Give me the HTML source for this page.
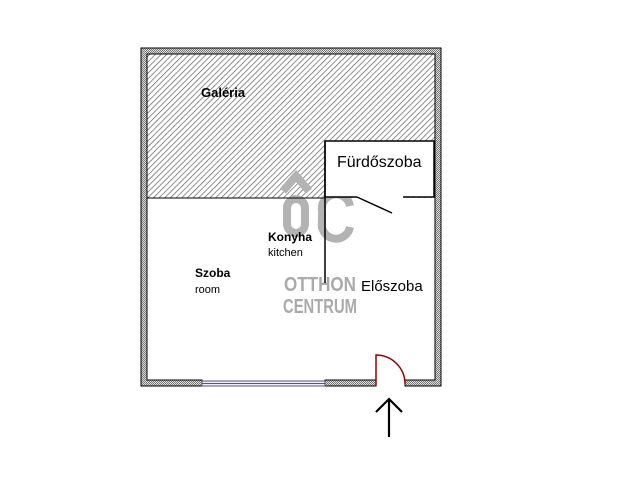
<!DOCTYPE html>
<html><head><meta charset="utf-8"><style>body{margin:0;background:#fff}</style></head><body>
<svg width="640" height="480" xmlns="http://www.w3.org/2000/svg">
<defs>
<pattern id="h" width="4" height="4" patternUnits="userSpaceOnUse" patternTransform="rotate(45)">
<rect width="4" height="4" fill="#fff"/><line x1="0" y1="0" x2="0" y2="4" stroke="#555" stroke-width="1.3"/>
</pattern>
<pattern id="w" width="2" height="2" patternUnits="userSpaceOnUse"><rect width="2" height="2" fill="#ddd"/><rect width="1" height="1" fill="#777"/><rect x="1" y="1" width="1" height="1" fill="#777"/></pattern>
</defs>
<rect x="147" y="54" width="288" height="144" fill="url(#h)"/>
<!-- logo -->
<g fill="none" stroke="#b3b3b3" stroke-width="8">
<rect x="287" y="199" width="18" height="34" rx="9"/>
<path d="M350 206A12 12 0 0 0 322 211V222A12 12 0 0 0 350 227"/>
<path d="M283 191L296 176L309 191"/>
</g>
<g font-family="Liberation Sans, sans-serif" fill="#aaa" font-size="20" font-weight="bold" text-anchor="middle">
<text x="320" y="291" textLength="72" lengthAdjust="spacingAndGlyphs">OTTHON</text>
<text x="320" y="313" textLength="74" lengthAdjust="spacingAndGlyphs">CENTRUM</text>
</g>
<rect x="325" y="141" width="109" height="56" fill="#fff" stroke="#000" stroke-width="1.5"/>
<!-- walls -->
<path d="M141 48H441V386H405V380H435V54H147V380H202V386H141Z" fill="url(#w)" stroke="#000" stroke-width="1"/>
<path d="M325 380H376V386H325Z" fill="url(#w)" stroke="#000" stroke-width="1"/>
<rect x="202" y="381" width="123" height="5" fill="#eef" stroke="#557" stroke-width="1"/>
<line x1="202" y1="383.5" x2="325" y2="383.5" stroke="#557" stroke-width="1"/>
<line x1="147" y1="198" x2="325" y2="198" stroke="#000" stroke-width="1"/>
<rect x="357" y="195" width="46" height="4" fill="#fff"/>
<line x1="325" y1="141" x2="325" y2="283" stroke="#000" stroke-width="1.5"/>
<line x1="357" y1="197" x2="392" y2="213" stroke="#000" stroke-width="1.5"/>
<!-- door -->
<path d="M376 386V355A29 29 0 0 1 405 384" fill="none" stroke="#900" stroke-width="1.5"/>
<!-- arrow -->
<path d="M389 437V399M376 412L389 399L402 412" fill="none" stroke="#000" stroke-width="2.2"/>
<g font-family="Liberation Sans, sans-serif" fill="#000">
<text x="201" y="97" font-size="13" font-weight="bold">Galéria</text>
<text x="337" y="167" font-size="16">Fürdőszoba</text>
<text x="361" y="291" font-size="15">Előszoba</text>
<text x="268" y="241" font-size="12" font-weight="bold">Konyha</text>
<text x="268" y="256" font-size="11">kitchen</text>
<text x="195" y="277" font-size="12" font-weight="bold">Szoba</text>
<text x="195" y="293" font-size="11">room</text>
</g>
</svg>
</body></html>
